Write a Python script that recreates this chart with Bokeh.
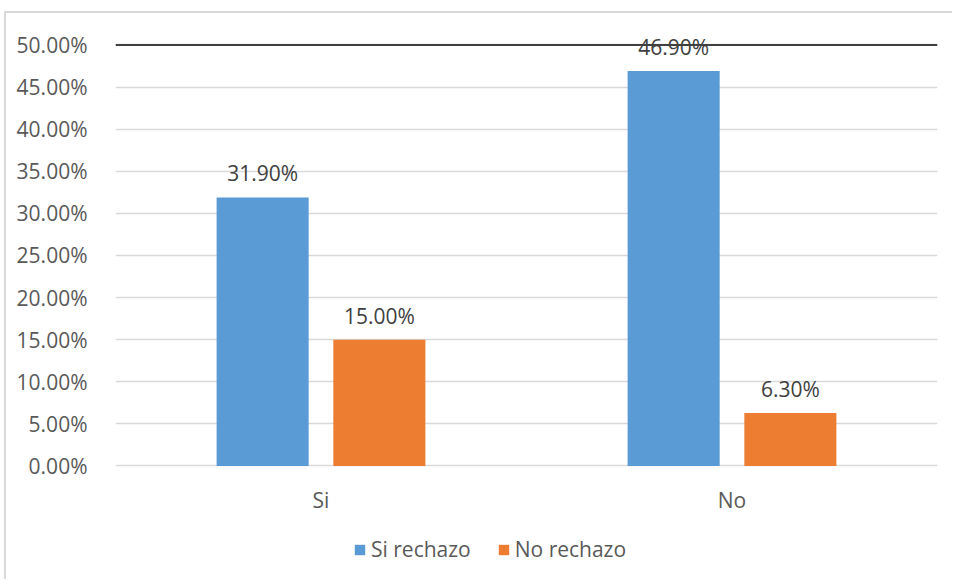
from bokeh.plotting import figure
from bokeh.models import (ColumnDataSource, FactorRange, Range1d, NumeralTickFormatter,
                          FixedTicker, Span, Legend, LegendItem, LabelSet)
from bokeh.core.properties import value
from bokeh.transform import dodge
from bokeh.embed import file_html
from bokeh.resources import INLINE

# Data
categories = ["Si", "No"]
series_names = ["Si rechazo", "No rechazo"]
si_rechazo = [0.319, 0.469]
no_rechazo = [0.150, 0.063]
y_ticks = [0.0, 0.05, 0.10, 0.15, 0.20, 0.25, 0.30, 0.35, 0.40, 0.45, 0.50]

BLUE = "#5B9BD5"
ORANGE = "#ED7D31"
FONT = "Open Sans"
FSIZE = "21px"

src = ColumnDataSource(dict(
    cat=categories,
    si=si_rechazo,
    no=no_rechazo,
    si_lbl=[f"{v * 100:.2f}%" for v in si_rechazo],
    no_lbl=[f"{v * 100:.2f}%" for v in no_rechazo],
))

# The frame runs the full height of the chart area so the category axis
# and the legend can sit inside it, below the zero line.
p = figure(
    x_range=FactorRange(*categories),
    y_range=Range1d(-0.1372, 0.5374),
    width=948, height=568,
    output_backend="svg", toolbar_location=None,
    min_border_left=109, min_border_right=17,
    min_border_top=0, min_border_bottom=0,
)
p.styles = {
    "margin-left": "4px", "margin-top": "11px",
    "border-left": "2px solid #D9D9D9", "border-top": "2px solid #D9D9D9",
}
p.outline_line_color = None
p.background_fill_color = "white"
p.border_fill_color = "white"

bw = 0.224
off = 0.142
r_si = p.vbar(x=dodge("cat", -off, range=p.x_range), top="si", width=bw, bottom=0,
              source=src, fill_color=BLUE, line_color=None)
r_no = p.vbar(x=dodge("cat", off, range=p.x_range), top="no", width=bw, bottom=0,
              source=src, fill_color=ORANGE, line_color=None)

# value labels above bars
for col, lbl, o in (("si", "si_lbl", -off), ("no", "no_lbl", off)):
    p.add_layout(LabelSet(
        x=dodge("cat", o, range=p.x_range), y=col, text=lbl, source=src,
        text_align="center", text_baseline="middle", y_offset=24,
        text_font=value(FONT), text_font_size=FSIZE, text_color="#404040",
    ))

# dark line along the top of the value scale
p.add_layout(Span(location=0.5, dimension="width", line_color="#404040", line_width=2))

# axes
p.yaxis.ticker = FixedTicker(ticks=y_ticks)
p.yaxis.formatter = NumeralTickFormatter(format="0.00%")
p.xaxis.fixed_location = 0
for ax in (p.xaxis, p.yaxis):
    ax.axis_line_color = None
    ax.major_tick_line_color = None
    ax.minor_tick_line_color = None
    ax.major_label_text_font = FONT
    ax.major_label_text_font_size = FSIZE
    ax.major_label_text_color = "#595959"
p.yaxis.major_label_standoff = 22
p.xaxis.major_label_standoff = 14

p.xgrid.grid_line_color = None
p.ygrid.ticker = FixedTicker(ticks=y_ticks)
p.ygrid.grid_line_color = "#D9D9D9"
p.ygrid.grid_line_width = 1.5

legend = Legend(
    items=[LegendItem(label=series_names[0], renderers=[r_si]),
           LegendItem(label=series_names[1], renderers=[r_no])],
    orientation="horizontal", location=(238, 18),
    glyph_width=13, glyph_height=13, label_standoff=5, spacing=26,
    padding=0, margin=0, border_line_color=None, background_fill_alpha=0,
    label_text_font=FONT, label_text_font_size=FSIZE, label_text_color="#595959",
)
p.add_layout(legend, "center")

open("out.html", "w").write(file_html(p, INLINE))
